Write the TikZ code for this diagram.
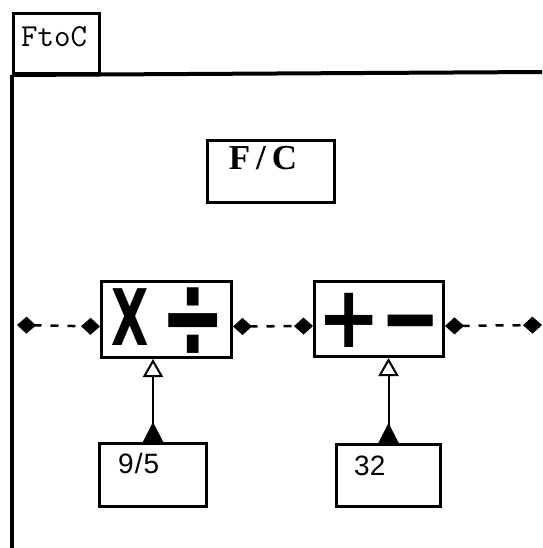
\documentclass[tikz,border=0pt]{standalone}
\usepackage{fontspec}
\setmainfont{Liberation Serif}
\newfontfamily\sansf{Liberation Sans}
\newfontfamily\symf{DejaVu Sans}
\usetikzlibrary{arrows.meta}
\begin{document}
\begin{tikzpicture}[x=1pt,y=-1pt,
  box/.style={draw,line width=3pt,rectangle,inner sep=0pt,anchor=north west},
  frameline/.style={line width=4pt},
  flow/.style={line width=2.5pt,dash pattern=on 8pt off 9pt,
    {Diamond[length=19pt,width=17pt,line width=0pt]}-{Diamond[length=19pt,width=17pt,line width=0pt]}},
  param/.style={line width=2pt,
    {Triangle[reversed,length=20pt,width=20pt]}-{Triangle[open,length=18pt,width=20pt,line width=2pt]}},
  bigsym/.style={font=\symf\bfseries\fontsize{78}{78}\selectfont,inner sep=0pt,anchor=base}]
\useasboundingbox (0,0) rectangle (542,548);
% frame and tab
\node[box,minimum width=86pt,minimum height=60pt] (tab) at (12,12) {};
\node[anchor=base west,inner sep=0pt,font=\ttfamily\fontsize{32}{32}\selectfont] (tabtext) at (21,47) {FtoC};
\coordinate (frTR) at (542,72);
\coordinate (frBL) at (12,548);
\draw[frameline] (tab.south west) -- (frTR);
\draw[frameline] (tab.south west) -- (frBL);
% title box
\node[box,minimum width=127pt,minimum height=62pt] (fc) at (206,139) {};
\node[anchor=base,inner sep=0pt,font=\bfseries\fontsize{35}{35}\selectfont] (fctext) at (263,170) {F\,/\,C};
% operator boxes
\node[box,minimum width=130pt,minimum height=76pt] (mult) at (100,280) {};
\node[box,minimum width=129pt,minimum height=75pt] (plus) at (313,280) {};
\node[bigsym] (multsym) at (168.5,345.5) {\scalebox{0.62}[1]{X}\kern12pt\raisebox{-13pt}{\scalebox{1}[1.55]{÷}}};
\node[bigsym,font=\symf\bfseries\fontsize{72}{72}\selectfont] (plussym) at (379,347) {\scalebox{1.05}[1.2]{+}\raisebox{-5pt}{\scalebox{1}[1.4]{−}}};
% parameter boxes
\node[box,minimum width=107pt,minimum height=63pt] (n95) at (98,442) {};
\node[anchor=base west,inner sep=0pt,font=\sansf\fontsize{28}{28}\selectfont] (t95) at (118,473) {9\kern1pt/\kern1pt5};
\node[box,minimum width=104pt,minimum height=62pt] (n32) at (335,443) {};
\node[anchor=base west,inner sep=0pt,font=\sansf\fontsize{28}{28}\selectfont] (t32) at (354,475) {32};
% flow connectors
\coordinate (inL) at (17,325);
\coordinate (outR) at (542,325);
\draw[flow] (inL) -- ([yshift=-7pt]mult.west);
\draw[flow] ([yshift=-7pt]mult.east) -- ([yshift=-7pt]plus.west);
\draw[flow] ([yshift=-7pt]plus.east) -- (outR);
% parameter connectors
\draw[param] (n95.north) -- (n95.north |- mult.south);
\draw[param] (n32.north) -- (n32.north |- plus.south);
\end{tikzpicture}
\end{document}
